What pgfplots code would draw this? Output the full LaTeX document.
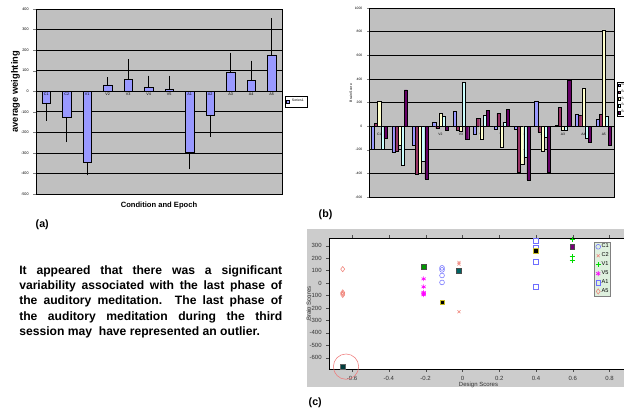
\documentclass[border=0pt]{standalone}
\usepackage{pgfplots}
\pgfplotsset{compat=1.18}
\usepackage{fontspec}
\setmainfont{Liberation Sans}
\usetikzlibrary{plotmarks}
\hyphenpenalty=10000
\exhyphenpenalty=10000
\definecolor{plotgray}{RGB}{192,192,192}
\definecolor{figgray}{RGB}{204,204,204}
\definecolor{barblue}{RGB}{153,153,255}
\definecolor{sermaroon}{RGB}{153,51,102}
\definecolor{seryellow}{RGB}{255,255,204}
\definecolor{sercyan}{RGB}{204,255,255}
\definecolor{serpurple}{RGB}{102,0,102}
\definecolor{mblue}{RGB}{110,110,255}
\definecolor{msalmon}{RGB}{240,130,120}
\definecolor{mgreen}{RGB}{0,220,0}
\definecolor{mmag}{RGB}{255,0,255}
\definecolor{leggreen}{RGB}{222,240,222}
\pgfplotsset{/pgf/number format/assume math mode=true, /pgf/number format/1000 sep={}}
\begin{document}
\begin{tikzpicture}[x=0.75pt,y=0.75pt]
\useasboundingbox (0,0) rectangle (624,411);
\coordinate (Apos) at (36,217);
\coordinate (Bpos) at (369,214);
\coordinate (Cpos) at (329,42);

% ---------------- panel (a)
\begin{axis}[at={(Apos)}, anchor=south west, scale only axis,
  width=184.5pt, height=138.75pt,
  xmin=-0.5, xmax=11.5, ymin=-500, ymax=400,
  ytick={-500,-400,...,400}, ymajorgrids, grid style={black, line width=0.45pt},
  xtick={0,...,11}, xticklabels={},
  xtick style={draw=none},
  yticklabel style={font=\fontsize{2.8}{3}\selectfont},
  ytick pos=left, tick align=outside, major tick length=2pt,
  axis line style={black, line width=0.5pt},
  axis background/.style={fill=plotgray},
  ylabel={\bfseries average weighting},
  xlabel={\bfseries Condition and Epoch},
  every axis y label/.style={at={(rel axis cs:-0.083,0.553)}, rotate=90, anchor=center, font=\fontsize{7}{8}\selectfont},
  every axis x label/.style={at={(rel axis cs:0.5,-0.06)}, anchor=center, font=\fontsize{5.7}{7}\selectfont},
  ybar, bar width=0.4,
  legend style={at={(1.012,0.5)}, anchor=west, font=\fontsize{2.6}{3}\selectfont, draw=black, inner sep=0.6pt, line width=0.3pt},
  legend image code/.code={\draw[#1, line width=0.3pt] (0pt,-1.1pt) rectangle (2.2pt,1.1pt);},
]
\addplot[fill=barblue, draw=black, line width=0.4pt, bar shift=0pt,
  error bars/.cd, y dir=plus, y explicit, error bar style={black, line width=0.5pt}, error mark options={black, mark size=1.6pt}]
  coordinates {(3,31) += (0,26) (4,58) += (0,86) (5,18) += (0,47) (6,11) += (0,55)
               (9,94) += (0,83) (10,54) += (0,84) (11,177) += (0,167)};
\addlegendentry{Series1}
\addplot[fill=barblue, draw=black, line width=0.4pt, bar shift=0pt, forget plot,
  error bars/.cd, y dir=minus, y explicit, error bar style={black, line width=0.5pt}, error mark options={black, mark size=1.6pt}]
  coordinates {(0,-57) -= (0,76) (1,-126) -= (0,111) (2,-345) -= (0,54)
               (7,-297) -= (0,73) (8,-115) -= (0,97)};
\foreach \i/\lab in {0/C1,1/C2,2/V1,3/V2,4/V3,5/V4,6/V5,7/A1,8/A2,9/A3,10/A4,11/A5}{
  \edef\temp{\noexpand\node[anchor=north, inner sep=1.2pt, font=\noexpand\fontsize{2.8}{3}\noexpand\selectfont] at (axis cs:\i,0) {\lab};}
  \temp
}
\end{axis}

% ---------------- panel (b)
\begin{axis}[at={(Bpos)}, anchor=south west, scale only axis,
  width=183.75pt, height=141.75pt,
  xmin=-0.5, xmax=11.5, ymin=-600, ymax=1000,
  ytick={-600,-400,...,1000}, ymajorgrids, grid style={black, line width=0.45pt},
  xtick={0,...,11}, xticklabels={C1,C2,V1,V2,V3,V4,V5,A1,A2,A3,A4,A5},
  xtick style={draw=none},
  xticklabel style={yshift=53pt, font=\fontsize{2.5}{3}\selectfont},
  yticklabel style={font=\fontsize{2.5}{3}\selectfont},
  ytick pos=left, tick align=outside, major tick length=1.5pt,
  axis line style={black, line width=0.5pt},
  axis background/.style={fill=plotgray},
  ylabel={Brain Score},
  every axis y label/.style={at={(rel axis cs:-0.074,0.55)}, rotate=90, anchor=center, font=\fontsize{2.6}{3}\selectfont},
  ybar=0pt, bar width=0.154,
  legend style={at={(1.012,0.61)}, anchor=north west, font=\fontsize{2.5}{3}\selectfont, draw=black, inner sep=0.5pt, line width=0.3pt, row sep=1pt, nodes={inner sep=0.4pt}},
  legend image code/.code={\draw[#1, line width=0.3pt] (0pt,-1pt) rectangle (2pt,1pt);},
]
\addplot[fill=barblue, draw=black, line width=0.3pt] coordinates {(0,-192)(1,-224)(2,-164)(3,37)(4,127)(5,-71)(6,-25)(7,-28)(8,214)(9,6)(10,102)(11,59)};
\addlegendentry{Series1}
\addplot[fill=sermaroon, draw=black, line width=0.3pt] coordinates {(0,25)(1,-215)(2,-410)(3,-20)(4,-37)(5,65)(6,107)(7,-392)(8,-51)(9,161)(10,93)(11,102)};
\addlegendentry{Series2}
\addplot[fill=seryellow, draw=black, line width=0.3pt] coordinates {(0,209)(1,-164)(2,-399)(3,110)(4,-45)(5,-110)(6,-175)(7,-322)(8,-214)(9,-31)(10,322)(11,815)};
\addlegendentry{Series3}
\addplot[fill=sercyan, draw=black, line width=0.3pt] coordinates {(0,-195)(1,-328)(2,-294)(3,82)(4,373)(5,90)(6,34)(7,-262)(8,-93)(9,-34)(10,-102)(11,87)};
\addlegendentry{Series4}
\addplot[fill=serpurple, draw=black, line width=0.3pt] coordinates {(0,-105)(1,306)(2,-447)(3,-34)(4,-107)(5,136)(6,144)(7,-454)(8,-392)(9,392)(10,-138)(11,-164)};
\addlegendentry{Series5}
\end{axis}

% ---------------- panel (c)
\fill[figgray] (307,24) rectangle (624,182);
\begin{axis}[at={(Cpos)}, anchor=south west, scale only axis,
  width=224.25pt, height=98.25pt,
  xmin=-0.7255, xmax=0.9, ymin=-690, ymax=362,
  xtick={-0.6,-0.4,-0.2,0,0.2,0.4,0.6,0.8},
  xticklabels={-0.6,-0.4,-0.2,0,0.2,0.4,0.6,0.8},
  ytick={-600,-500,...,300},
  tick align=outside, major tick length=2pt,
  tick style={black!70},
  ticklabel style={font=\fontsize{4.5}{5}\selectfont, text=black!80},
  axis line style={black, line width=0.4pt},
  axis background/.style={fill=white},
  clip=false,
  xlabel={Design Scores}, ylabel={Brain Scores},
  every axis x label/.style={at={(rel axis cs:0.5,-0.12)}, anchor=center, font=\fontsize{4.5}{5}\selectfont, text=black!80},
  every axis y label/.style={at={(rel axis cs:-0.068,0.5)}, rotate=90, anchor=center, font=\fontsize{4.5}{5}\selectfont, text=black!80},
  legend style={at={(0.887,0.972)}, anchor=north west, fill=leggreen, draw=black!50, font=\fontsize{4.2}{4.5}\selectfont, inner sep=0.8pt, row sep=1.1pt, nodes={inner sep=0.6pt}},
  legend cell align=left,
]
\addplot[only marks, mark=o, mark size=1.8pt, mblue, line width=0.4pt] coordinates {(-0.111,122)(-0.111,106)(-0.111,61)(-0.111,5)};
\addlegendentry{C1}
\addplot[only marks, mark=x, mark size=1.6pt, msalmon, line width=0.4pt] coordinates {(-0.019,165)(-0.019,152)(-0.019,-230)};
\addlegendentry{C2}
\addplot[only marks, mark=+, mark size=2pt, mgreen, line width=0.5pt] coordinates {(0.597,352)(0.597,213)(0.597,181)};
\addlegendentry{V1}
\addplot[only marks, mark=asterisk, mark size=1.8pt, mmag, line width=0.5pt] coordinates {(-0.211,34)(-0.211,-30)(-0.211,-75)(-0.211,-85)(-0.211,-94)};
\addlegendentry{V5}
\addplot[only marks, mark=square, mark size=1.8pt, mblue, line width=0.4pt] coordinates {(0.398,338)(0.398,285)(0.398,168)(0.398,-27)};
\addlegendentry{A1}
\addplot[only marks, mark=diamond, mark size=2pt, msalmon, line width=0.4pt] coordinates {(-0.651,112)(-0.651,-75)(-0.651,-85)(-0.651,-95)};
\addlegendentry{A5}
% session means (filled squares)
\addplot[only marks, mark=square*, mark size=1.7pt, draw=black!60, fill={rgb,255:red,0;green,60;blue,60}, forget plot] coordinates {(-0.651,-672)};
\addplot[only marks, mark=square*, mark size=1.7pt, draw=black!70, fill={rgb,255:red,0;green,150;blue,0}, forget plot] coordinates {(-0.211,133)};
\addplot[only marks, mark=square*, mark size=1.7pt, draw={rgb,255:red,200;green,190;blue,40}, fill=black, forget plot] coordinates {(-0.111,-155)(0.398,258)};
\addplot[only marks, mark=square*, mark size=1.7pt, draw=black!70, fill={rgb,255:red,0;green,100;blue,100}, forget plot] coordinates {(-0.019,98)};
\addplot[only marks, mark=square*, mark size=1.7pt, draw=black!70, fill={rgb,255:red,120;green,0;blue,120}, forget plot] coordinates {(0.597,290)};
% circle marking the outlier
\addplot[only marks, mark=o, mark size=9.5pt, draw={rgb,255:red,240;green,120;blue,120}, line width=0.4pt, forget plot] coordinates {(-0.633,-671)};
\end{axis}

% ---------------- texts
\node[anchor=west, font=\bfseries\fontsize{8}{9}\selectfont] at (31,186) {(a)};
\node[anchor=west, font=\bfseries\fontsize{8}{9}\selectfont] at (314,196) {(b)};
\node[anchor=west, font=\bfseries\fontsize{8}{9}\selectfont] at (304,8) {(c)};
\node[anchor=north west, inner sep=0pt, text width=197.25pt, align=justify,
      font=\bfseries\fontsize{9.1}{11.5}\selectfont] at (19,146)
  {It appeared that there was a significant\linebreak variability associated with the last phase of\linebreak the auditory meditation. The last phase of\linebreak the auditory meditation during the third\linebreak session may\ \ have represented an outlier.};
\end{tikzpicture}
\end{document}
